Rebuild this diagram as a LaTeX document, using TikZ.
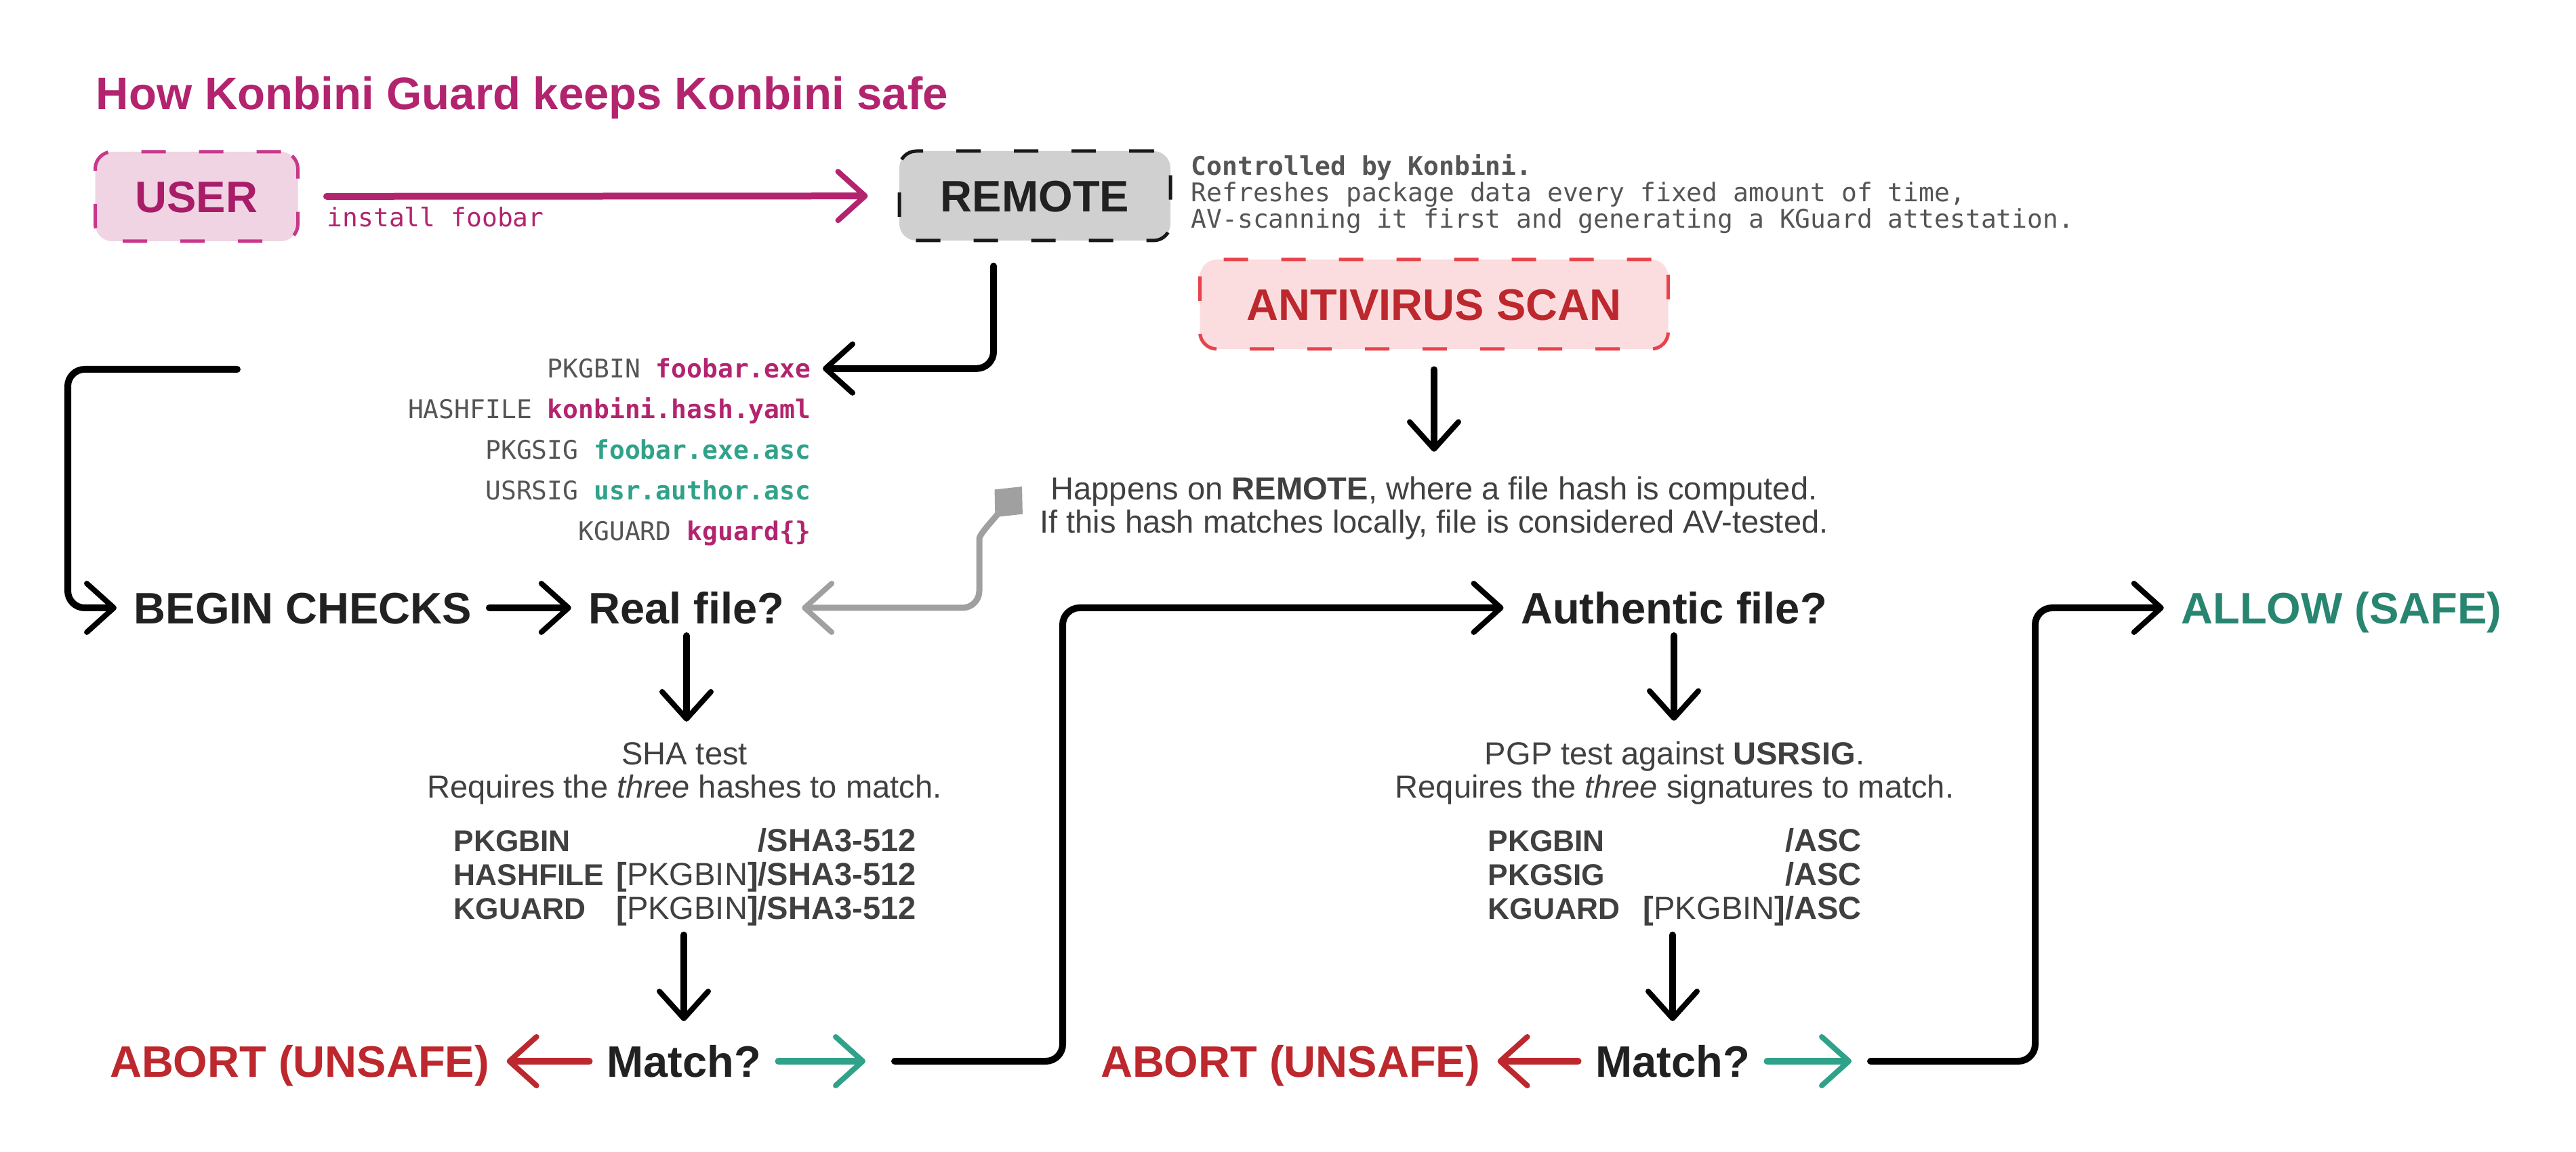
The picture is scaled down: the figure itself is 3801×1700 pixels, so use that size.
\documentclass[tikz,border=0pt]{standalone}
\usepackage{fontspec}
\setmainfont{Liberation Sans}
\setmonofont{DejaVu Sans Mono}
\usetikzlibrary{positioning,arrows.meta}

\definecolor{kmag}{HTML}{B3246F}
\definecolor{kmagdark}{HTML}{A81C68}
\definecolor{kpink}{HTML}{F0D4E3}
\definecolor{kpinkline}{HTML}{C8378A}
\definecolor{kgrayfill}{HTML}{D0D0D0}
\definecolor{kredfill}{HTML}{FCDDDF}
\definecolor{kredline}{HTML}{E8434C}
\definecolor{kred}{HTML}{BC282D}
\definecolor{kteal}{HTML}{30A28A}
\definecolor{kgreen}{HTML}{278570}
\definecolor{ktext}{HTML}{404040}
\definecolor{kmono}{HTML}{555555}
\definecolor{klink}{HTML}{A0A0A0}
\newcommand{\tlabel}[1]{{\fontsize{12.6}{14.1}\selectfont\bfseries #1}}

\begin{document}
\begin{tikzpicture}[x=0.1mm, y=-0.1mm,
  big/.style={font=\fontsize{18.5}{20}\selectfont\bfseries, text=black!87, inner xsep=2.5mm, inner ysep=1.7mm, text height=13.3pt, text depth=0pt},
  box/.style={big, draw, rounded corners=2.5mm, line width=0.5mm, dash pattern=on 3.6mm off 4.9mm, minimum height=13.2mm},
  body/.style={font=\fontsize{13.4}{14.1}\selectfont, text=ktext, align=center, inner sep=0pt},
  mono/.style={font=\fontsize{10.8}{11.2}\selectfont\ttfamily, text=kmono, inner sep=0pt},
  flow/.style={line width=1mm, rounded corners=2.5mm, line cap=round, -{Straight Barb[round, length=4mm, width=7.2mm, line width=0.8mm]}},
  link/.style={flow, klink, line width=0.9mm, {Diamond[length=6mm, width=5.5mm]}-{Straight Barb[round, length=4mm, width=7.2mm, line width=0.8mm]}}
]
  \useasboundingbox (0,0) rectangle (3801,1700);
  \fill[white] (0,0) rectangle (3801,1700);

  % header
  \node[anchor=base west, inner sep=0pt, font=\fontsize{19.1}{20}\selectfont\bfseries, text=kmag] (title) at (141,162) {How Konbini Guard keeps Konbini safe};
  \node[box, draw=kpinkline, fill=kpink, text=kmagdark, minimum width=29.9mm] (user) at (290,290) {USER};
  \node[box, draw=black!90, fill=kgrayfill, minimum width=40mm] (remote) at (1527,289) {REMOTE};
  \node[box, draw=kredline, fill=kredfill, text=kred, minimum width=69.1mm] (av) at (2116,449) {ANTIVIRUS SCAN};
  \node[mono, anchor=base west, text=kmag] (cmd) at (482,335) {install foobar};
  \node[mono, anchor=base west, align=left] (remotenote) at (1757,337) {\textbf{Controlled by Konbini.}\\Refreshes package data every fixed amount of time,\\AV-scanning it first and generating a KGuard attestation.};
  \node[body, anchor=base] (avnote) at (2116,787) {Happens on \textbf{REMOTE}, where a file hash is computed.\\If this hash matches locally, file is considered AV-tested.};

  % package files
  \node[mono, anchor=base east] (pkgbin) at (1197,558) {PKGBIN \textbf{\textcolor{kmag}{foobar.exe}}};
  \node[mono, anchor=base east] (hashfile) at (1197,618) {HASHFILE \textbf{\textcolor{kmag}{konbini.hash.yaml}}};
  \node[mono, anchor=base east] (pkgsig) at (1197,678) {PKGSIG \textbf{\textcolor{kteal}{foobar.exe.asc}}};
  \node[mono, anchor=base east] (usrsig) at (1197,738) {USRSIG \textbf{\textcolor{kteal}{usr.author.asc}}};
  \node[mono, anchor=base east] (kguard) at (1197,798) {KGUARD \textbf{\textcolor{kmag}{kguard\{\}}}};
  \coordinate (tap) at (350,545);

  % checks
  \node[big] (begin) at (447,897) {BEGIN CHECKS};
  \node[big] (realfile) at (1013,897) {Real file?};
  \node[big] (authentic) at (2470,897) {Authentic file?};
  \node[big, text=kgreen] (allow) at (3455,897) {ALLOW (SAFE)};
  \node[body, anchor=base] (shatest) at (1010,1178) {SHA test\\Requires the \textit{three} hashes to match.};
  \node[body, anchor=base west] (shatable) at (669,1257) {\begin{tabular*}{68.2mm}[t]{@{}l@{\extracolsep{\fill}}r@{}}
    \tlabel{PKGBIN} & \textbf{/SHA3-512}\\
    \tlabel{HASHFILE} & \textbf{[}PKGBIN\textbf{]/SHA3-512}\\
    \tlabel{KGUARD} & \textbf{[}PKGBIN\textbf{]/SHA3-512}
  \end{tabular*}};
  \node[body, anchor=base] (pgptest) at (2471,1178) {PGP test against \textbf{USRSIG}.\\Requires the \textit{three} signatures to match.};
  \node[body, anchor=base west] (pgptable) at (2195,1257) {\begin{tabular*}{55.1mm}[t]{@{}l@{\extracolsep{\fill}}r@{}}
    \tlabel{PKGBIN} & \textbf{/ASC}\\
    \tlabel{PKGSIG} & \textbf{/ASC}\\
    \tlabel{KGUARD} & \textbf{[}PKGBIN\textbf{]/ASC}
  \end{tabular*}};
  \node[big] (match1) at (1009,1566) {Match?};
  \node[big, text=kred] (abort1) at (442,1566) {ABORT (UNSAFE)};
  \node[big] (match2) at (2468,1566) {Match?};
  \node[big, text=kred] (abort2) at (1904,1566) {ABORT (UNSAFE)};
  \coordinate (ok1) at (1277,1566);
  \coordinate (go1) at (1320,1566);
  \coordinate (ok2) at (2732,1566);
  \coordinate (go2) at (2760,1566);

  % connectors
  \draw[flow, kmag, shorten <=4mm, shorten >=4.4mm] (user) -- (remote);
  \draw[flow, shorten <=3.5mm] ([xshift=-6.1mm]remote.south) |- ([xshift=1.7mm]pkgbin.east);
  \draw[flow] (tap) -- ++(-250,0) |- (begin.west);
  \draw[flow] (begin) -- (realfile);
  \draw[flow, shorten <=2.8mm, shorten >=3.6mm] (av.south) -- (av.south |- avnote.north);
  \draw[link] (1508,718) .. controls (1458,775) and (1445,790) .. (1445,820) |- (realfile.east);
  \draw[flow, shorten >=3mm] (realfile.south) -- (realfile.south |- shatest.north);
  \draw[flow, shorten <=0.8mm, shorten >=1.8mm] (shatable.south -| match1) -- (match1.north);
  \draw[flow, kred] (match1) -- (abort1);
  \draw[flow, kteal] (match1) -- (ok1);
  \draw[flow] (go1) -- ++(248,0) |- (authentic.west);
  \draw[flow, shorten >=3mm] (authentic.south) -- (authentic.south |- pgptest.north);
  \draw[flow, shorten <=0.8mm, shorten >=1.8mm] (pgptable.south -| match2) -- (match2.north);
  \draw[flow, kred] (match2) -- (abort2);
  \draw[flow, kteal] (match2) -- (ok2);
  \draw[flow] (go2) -- ++(243,0) |- (allow.west);
\end{tikzpicture}
\end{document}
